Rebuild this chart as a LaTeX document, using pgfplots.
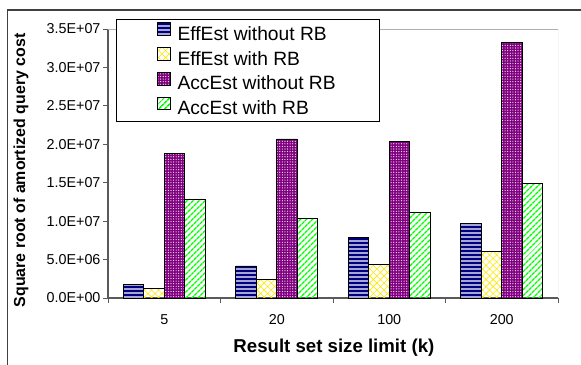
\documentclass[border=0pt]{standalone}
\usepackage{fontspec}
\setmainfont{Liberation Sans}
\usepackage{pgfplots}
\pgfplotsset{compat=1.18}
\usetikzlibrary{patterns.meta}
\definecolor{effnavy}{RGB}{0,0,128}
\definecolor{accpurple}{RGB}{128,0,128}
\definecolor{effyellow}{RGB}{255,230,0}
\definecolor{accgreen}{RGB}{0,255,0}
\definecolor{axgray}{RGB}{90,90,90}
\definecolor{bordgray}{RGB}{175,175,175}
\definecolor{framegray}{RGB}{64,64,64}
\begin{document}
\begin{tikzpicture}[x=1bp,y=1bp]
\useasboundingbox (0,0) rectangle (581,364);
\draw[framegray, line width=1.6bp] (7.5,-10) -- (7.5,354) -- (600,354);
\begin{axis}[
  at={(108bp,66bp)}, anchor=south west,
  scale only axis, width=450bp, height=269bp,
  ybar=0pt, bar width=20.5bp,
  every axis plot post/.append style={
    legend image code/.code={\draw[##1, line width=0.6bp] (0bp,0bp) rectangle (12.5bp,12.5bp);}},
  xmin=-0.5, xmax=3.5, ymin=0, ymax=3.5e7,
  axis x line*=bottom, axis y line*=left,
  axis line style={axgray, line width=1.3bp, -},
  tick align=outside, major tick length=5bp,
  tick style={axgray, line width=1bp},
  xtick={-0.5,0.5,1.5,2.5,3.5}, xticklabels={},
  extra x ticks={0,1,2,3}, extra x tick labels={5,20,100,200},
  extra x tick style={major tick length=0pt},
  ytick={0,5e6,1e7,1.5e7,2e7,2.5e7,3e7,3.5e7},
  yticklabels={0.0E+00,5.0E+06,1.0E+07,1.5E+07,2.0E+07,2.5E+07,3.0E+07,3.5E+07},
  scaled y ticks=false,
  /pgf/number format/assume math mode=true,
  tick label style={font=\fontsize{14.4}{16}\selectfont},
  yticklabel style={xshift=1bp},
  xticklabel style={anchor=center, yshift=-22bp},
  xlabel={Result set size limit (k)},
  ylabel={Square root of amortized query cost},
  every axis x label/.style={at={(axis description cs:0.502,-0.186)}, anchor=center, font=\bfseries\fontsize{18.7}{21}\selectfont},
  every axis y label/.style={at={(axis description cs:-0.1933,0.474)}, rotate=90, anchor=center, font=\bfseries\fontsize{16}{18}\selectfont},
  legend cell align=left,
  legend style={at={(0.0178,1.037)}, anchor=north west, draw=black, line width=0.8bp, fill=white,
    inner xsep=41bp, inner ysep=3bp, row sep=3bp, column sep=4bp,
    font=\fontsize{19.3}{21}\selectfont,
    nodes={inner xsep=3bp, inner ysep=0pt, text height=14bp, text depth=4bp}},
]
\addplot[draw=black, line width=0.7bp, fill=effnavy, postaction={pattern={Lines[angle=0,distance=4pt,line width=1.2pt]}, pattern color=white}]
  coordinates {(0,1.78e6) (1,4.17e6) (2,7.9e6) (3,9.72e6)};
\addlegendentry{EffEst without RB}
\addplot[draw=black, line width=0.7bp, pattern={Hatch[angle=45,distance=5pt,line width=0.6pt]}, pattern color=effyellow]
  coordinates {(0,1.26e6) (1,2.43e6) (2,4.39e6) (3,6.08e6)};
\addlegendentry{EffEst with RB}
\addplot[draw=black, line width=0.7bp, fill=accpurple, postaction={pattern={Dots[distance=2.6pt,radius=0.6pt]}, pattern color=white}]
  coordinates {(0,18.8e6) (1,20.7e6) (2,20.35e6) (3,33.2e6)};
\addlegendentry{AccEst without RB}
\addplot[draw=black, line width=0.7bp, pattern={Lines[angle=45,distance=4pt,line width=1.6pt]}, pattern color=accgreen]
  coordinates {(0,12.9e6) (1,10.4e6) (2,11.1e6) (3,14.9e6)};
\addlegendentry{AccEst with RB}
\draw[bordgray, line width=1bp] (rel axis cs:0,1) -- (rel axis cs:1,1) -- (rel axis cs:1,0);
\end{axis}
\end{tikzpicture}
\end{document}
